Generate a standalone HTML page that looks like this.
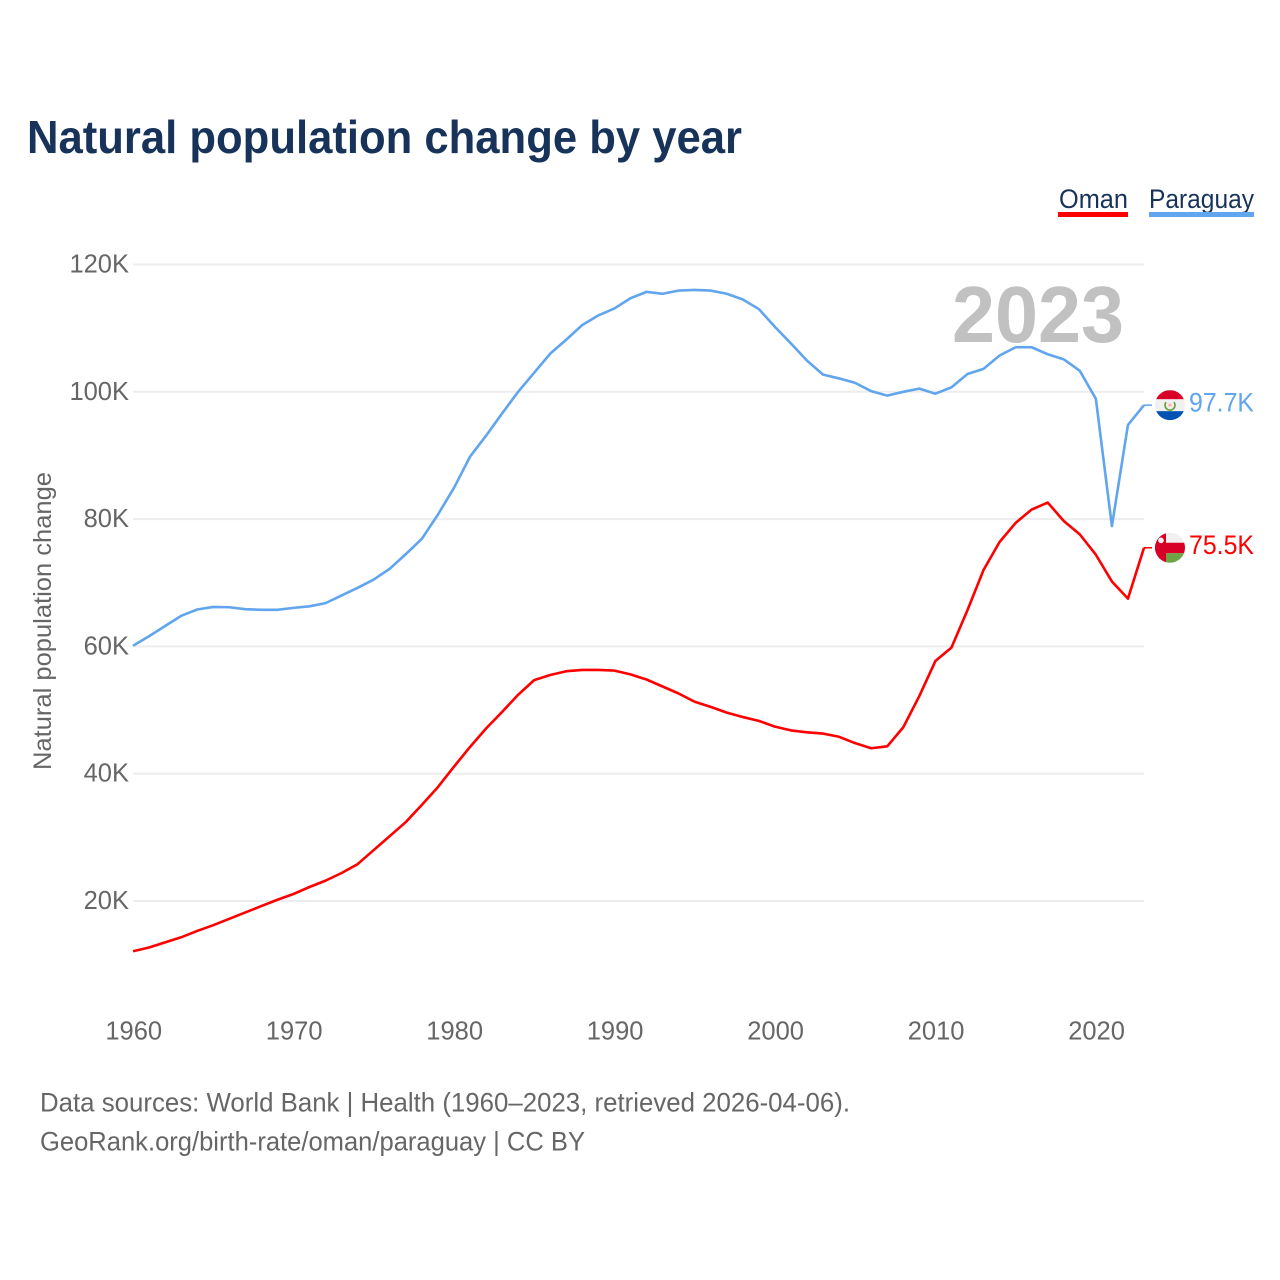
<!DOCTYPE html>
<html lang="en">
<head>
<meta charset="utf-8">
<title>Natural population change by year</title>
<style>
html,body{margin:0;padding:0;background:#fff;width:1280px;height:1280px;overflow:hidden}
svg{display:block;font-family:"Liberation Sans",sans-serif}
</style>
</head>
<body>
<svg id="chart" xmlns="http://www.w3.org/2000/svg" width="1280" height="1280" viewBox="0 0 1280 1280">
  <rect width="1280" height="1280" fill="#fff"/>
  <text x="27" y="153" font-size="46" font-weight="700" fill="#17335a" textLength="715" lengthAdjust="spacingAndGlyphs">Natural population change by year</text>

  <g>
    <g>
      <text x="1059" y="208" font-size="26.5" fill="#17335a" textLength="69" lengthAdjust="spacingAndGlyphs">Oman</text>
      <rect x="1058" y="212" width="70" height="5" fill="#ff0000"/>
    </g>
    <g>
      <text x="1149" y="208" font-size="26.5" fill="#17335a" textLength="105" lengthAdjust="spacingAndGlyphs">Paraguay</text>
      <rect x="1149" y="212" width="105" height="5" fill="#60a5ee"/>
    </g>
  </g>

  <g id="grid"></g>
  <g id="yticks"></g>
  <g id="xticks"></g>
  <text transform="translate(51,621) rotate(-90)" text-anchor="middle" font-size="25" fill="#666" textLength="298" lengthAdjust="spacingAndGlyphs">Natural population change</text>

  <text x="952" y="342" font-size="80" font-weight="700" fill="#c1c1c1" textLength="172" lengthAdjust="spacingAndGlyphs">2023</text>

  <g id="series"></g>

  <g id="flag-paraguay">
    <clipPath id="clip-py"><circle cx="0" cy="0" r="15"/></clipPath>
    <g clip-path="url(#clip-py)">
      <rect x="-15" y="-15" width="30" height="30" fill="#f0f0f0"/>
      <rect x="-15" y="-15" width="30" height="9" fill="#d80027"/>
      <rect x="-15" y="6" width="30" height="9" fill="#0052b4"/>
      <path d="M-4,-3 A5,5 0 1 0 4,-3" fill="none" stroke="#6da544" stroke-width="1.8"/>
      <circle cx="0" cy="0" r="1.6" fill="#ffb0a0"/>
    </g>
  </g>
  <g id="flag-oman">
    <clipPath id="clip-om"><circle cx="0" cy="0" r="15"/></clipPath>
    <g clip-path="url(#clip-om)">
      <rect x="-15" y="-15" width="30" height="30" fill="#f0f0f0"/>
      <rect x="-15" y="-5" width="30" height="10.5" fill="#d80027"/>
      <rect x="-4" y="5.5" width="19" height="10" fill="#6da544"/>
      <rect x="-15" y="-15" width="11" height="30" fill="#d80027"/>
      <circle cx="-9" cy="-7.4" r="2.8" fill="#f0f0f0"/>
    </g>
  </g>
  <text id="label-paraguay" x="1189" font-size="26.5" fill="#60a5ee" textLength="65" lengthAdjust="spacingAndGlyphs"></text>
  <text id="label-oman" x="1189" font-size="26.5" fill="#ff0000" textLength="65" lengthAdjust="spacingAndGlyphs"></text>

  <g>
    <text x="40" y="1111.5" font-size="26.5" fill="#666" textLength="810" lengthAdjust="spacingAndGlyphs">Data sources: World Bank | Health (1960–2023, retrieved 2026-04-06).</text>
    <text x="40" y="1150.5" font-size="26.5" fill="#666" textLength="545" lengthAdjust="spacingAndGlyphs">GeoRank.org/birth-rate/oman/paraguay | CC BY</text>
  </g>
</svg>
<script>
const startYear = 1960;
const yTickValues = [20, 40, 60, 80, 100, 120];
const yTickLabels = ['20K', '40K', '60K', '80K', '100K', '120K'];
const xTickValues = [1960, 1970, 1980, 1990, 2000, 2010, 2020];
const xTickLabels = ['1960', '1970', '1980', '1990', '2000', '2010', '2020'];
const omanValues = [12.1,12.7,13.5,14.3,15.3,16.2,17.2,18.2,19.2,20.2,21.1,22.2,23.2,24.4,25.8,28.0,30.2,32.4,35.1,37.9,41.1,44.2,47.1,49.7,52.4,54.7,55.5,56.1,56.3,56.3,56.2,55.6,54.8,53.7,52.6,51.3,50.5,49.6,48.9,48.3,47.4,46.8,46.5,46.3,45.8,44.8,44.0,44.3,47.3,52.2,57.7,59.8,65.7,72.0,76.4,79.4,81.5,82.6,79.7,77.6,74.4,70.2,67.5,75.5];
const paraguayValues = [60.1,61.6,63.2,64.8,65.8,66.2,66.15,65.85,65.75,65.75,66.05,66.3,66.8,68.0,69.2,70.5,72.2,74.5,76.9,80.7,84.9,89.8,93.1,96.6,100.0,103.0,106.0,108.2,110.5,112.0,113.1,114.7,115.7,115.4,115.9,116.0,115.9,115.4,114.5,113.0,110.2,107.6,104.9,102.7,102.1,101.4,100.1,99.4,100.0,100.5,99.7,100.7,102.8,103.6,105.7,107.0,107.0,105.9,105.1,103.3,98.9,78.9,94.8,97.9];
const omanEndLabel = '75.5K';
const paraguayEndLabel = '97.7K';

const SVG_NS = 'http://www.w3.org/2000/svg';
const xOf = function (year) { return 133 + (year - 1960) * (1144 - 133) / 63; };
const yOf = function (value) { return 264.5 + (120 - value) * 6.365; };

function make(tag, attrs, parent, text) {
  const el = document.createElementNS(SVG_NS, tag);
  Object.keys(attrs).forEach(function (k) { el.setAttribute(k, attrs[k]); });
  if (text !== undefined) el.textContent = text;
  parent.appendChild(el);
  return el;
}

const grid = document.getElementById('grid');
const yticks = document.getElementById('yticks');
yTickValues.forEach(function (v, i) {
  const line = make('line', {x1: 133, x2: 1144, y1: yOf(v), y2: yOf(v), stroke: '#ededed', 'stroke-width': 2}, grid);
  
  
  const label = make('text', {x: 129, y: yOf(v) + 8, 'text-anchor': 'end', 'font-size': 25.5, fill: '#666'}, yticks, yTickLabels[i]);
  
  
});

const xticks = document.getElementById('xticks');
xTickValues.forEach(function (v, i) {
  const label = make('text', {x: xOf(v) + 0.7, y: 1039.5, 'text-anchor': 'middle', 'font-size': 25.5, fill: '#666'}, xticks, xTickLabels[i]);
  
  
});

function pathFor(values) {
  return values.map(function (v, i) {
    return (i ? 'L' : 'M') + xOf(startYear + i).toFixed(2) + ',' + yOf(v).toFixed(2);
  }).join(' ');
}

const seriesGroup = document.getElementById('series');
const omanLine = make('path', {d: pathFor(omanValues), fill: 'none', stroke: '#ff0000', 'stroke-width': 2.6, 'stroke-linejoin': 'round'}, seriesGroup);


const paraguayLine = make('path', {d: pathFor(paraguayValues), fill: 'none', stroke: '#60a5ee', 'stroke-width': 2.6, 'stroke-linejoin': 'round'}, seriesGroup);



const lastYear = startYear + omanValues.length - 1;
const endX = xOf(lastYear);
const omanEndY = yOf(omanValues[omanValues.length - 1]);
const paraguayEndY = yOf(paraguayValues[paraguayValues.length - 1]);

const omanConnector = make('line', {x1: endX, x2: endX + 8, y1: omanEndY, y2: omanEndY, stroke: '#ff0000', 'stroke-width': 1.5}, seriesGroup);


const paraguayConnector = make('line', {x1: endX, x2: endX + 8, y1: paraguayEndY, y2: paraguayEndY, stroke: '#60a5ee', 'stroke-width': 1.5}, seriesGroup);



document.getElementById('flag-oman').setAttribute('transform', 'translate(1170,' + omanEndY + ')');
document.getElementById('flag-paraguay').setAttribute('transform', 'translate(1170,' + paraguayEndY + ')');

const omanLabel = document.getElementById('label-oman');
omanLabel.textContent = omanEndLabel;
omanLabel.setAttribute('y', omanEndY + 6.5);
const paraguayLabel = document.getElementById('label-paraguay');
paraguayLabel.textContent = paraguayEndLabel;
paraguayLabel.setAttribute('y', paraguayEndY + 6.5);
</script>
</body>
</html>
